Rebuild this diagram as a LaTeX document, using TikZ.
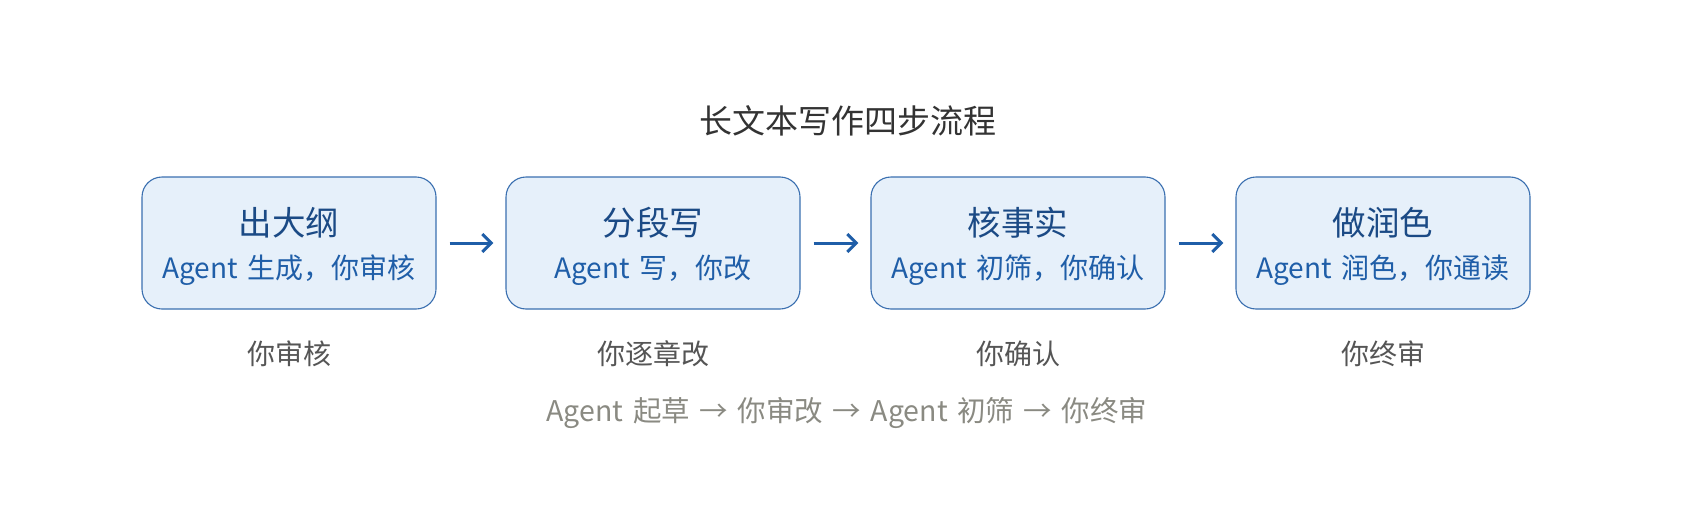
\documentclass[tikz,border=0pt]{standalone}
\usepackage{fontspec}
\setmainfont[WordSpace=1.5]{Noto Sans CJK SC}
\usetikzlibrary{arrows.meta}
\definecolor{boxfill}{HTML}{E6F0FA}
\definecolor{boxline}{HTML}{3A6FB0}
\definecolor{headblue}{HTML}{1B4A85}
\definecolor{subblue}{HTML}{1F5EA8}
\definecolor{notegray}{HTML}{555555}
\definecolor{flowgray}{HTML}{8A8A82}
\definecolor{titlegray}{HTML}{333333}
\tikzset{
  stepbox/.style={draw=boxline, fill=boxfill, line width=1.1pt, rounded corners=20pt,
    minimum width=294pt, minimum height=132pt, inner sep=0pt},
  stephead/.style={text=headblue, font=\fontsize{33.5}{38}\selectfont, inner sep=0pt},
  stepsub/.style={text=subblue, font=\fontsize{28}{32}\selectfont, inner sep=0pt},
  steparrow/.style={draw=subblue, line width=3pt, -{Straight Barb[length=9pt,width=18pt,line width=3pt]}},
  notetext/.style={text=notegray, font=\fontsize{28}{32}\selectfont, inner sep=0pt},
}
\begin{document}
\begin{tikzpicture}[x=1pt,y=1pt]
\useasboundingbox (0,0) rectangle (1696,-506);
% \draw[help lines, gray] (0,0) grid[step=100] (1696,-506);
\node (title) [text=titlegray, font=\fontsize{33}{38}\selectfont, inner sep=0pt] at (848,-121) {长文本写作四步流程};
% the four boxes
\node (s1) [stepbox] at (289,-243) {};
\node (s2) [stepbox] at (653,-243) {};
\node (s3) [stepbox] at (1018,-243) {};
\node (s4) [stepbox] at (1383,-243) {};
\node (h1) [stephead] at (289,-223) {出大纲};
\node (h2) [stephead] at (653,-223) {分段写};
\node (h3) [stephead] at (1018,-223) {核事实};
\node (h4) [stephead] at (1383,-223) {做润色};
\node (b1) [stepsub] at (289,-270) {Agent 生成，你审核};
\node (b2) [stepsub] at (653,-270) {Agent 写，你改};
\node (b3) [stepsub] at (1018,-270) {Agent 初筛，你确认};
\node (b4) [stepsub] at (1383,-270) {Agent 润色，你通读};
\draw [steparrow, shorten <=13pt, shorten >=12pt] (s1.east) -- (s2.west);
\draw [steparrow, shorten <=13pt, shorten >=12pt] (s2.east) -- (s3.west);
\draw [steparrow, shorten <=13pt, shorten >=12pt] (s3.east) -- (s4.west);
% who does what
\node (n1) [notetext] at (289,-354) {你审核};
\node (n2) [notetext] at (653,-354) {你逐章改};
\node (n3) [notetext] at (1018,-354) {你确认};
\node (n4) [notetext] at (1383,-354) {你终审};
\node (flow) [text=flowgray, font=\fontsize{28.5}{32}\selectfont, inner sep=0pt] at (847,-413) {Agent 起草 → 你审改 → Agent 初筛 → 你终审};
\end{tikzpicture}
\end{document}
